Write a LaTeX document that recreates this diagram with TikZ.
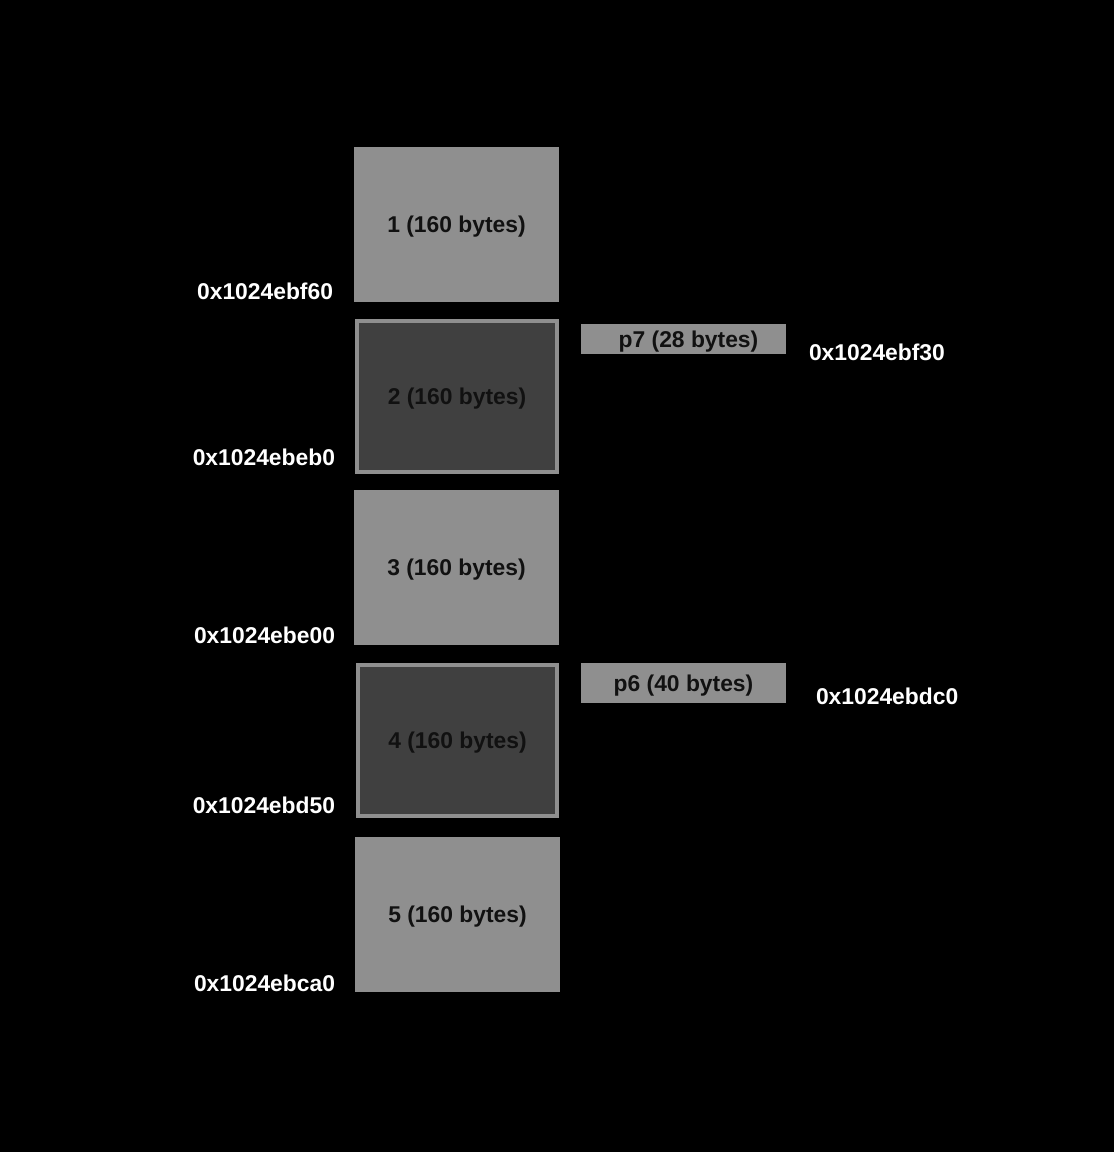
\documentclass[tikz,border=0pt]{standalone}
\usepackage{fontspec}
\setmainfont{Liberation Sans}
\usepackage{tikz}
\definecolor{chunkgray}{HTML}{8F8F8F}
\definecolor{freegray}{HTML}{404040}
\definecolor{inkdark}{HTML}{111111}

\begin{document}
\begin{tikzpicture}[x=0.02cm, y=-0.02cm,
                    every node/.style={align=center, font=\fontsize{13}{15}\selectfont\bfseries, inner sep=0pt, outer sep=0pt},
                    chunk/.style={fill=chunkgray, minimum width=4.1cm, minimum height=3.1cm, text=inkdark, text depth=0pt},
                    freechunk/.style={fill=freegray, draw=chunkgray, line width=0.08cm, minimum width=4.0cm, minimum height=3.02cm, text=inkdark, text depth=0pt},
                    small/.style={fill=chunkgray, minimum width=4.1cm, text=inkdark, text depth=0pt},
                    addr/.style={text=white}]
                        \fill[black] (0, 0) rectangle (1114, 1152);
                        \useasboundingbox (0, 0) rectangle (1114, 1152);
                        \node[chunk] (C1) at (456.5, 224.5) {1 (160 bytes)};
                        \node[freechunk] (C2) at (457, 396.5) {2 (160 bytes)};
                        \node[chunk] (C3) at (456.5, 567.5) {3 (160 bytes)};
                        \node[freechunk] (C4) at (457.5, 740.5) {4 (160 bytes)};
                        \node[chunk] (C5) at (457.5, 914.5) {5 (160 bytes)};
                        \node[small, minimum height=0.6cm] (P7) at (683.5, 339) {\hspace{0.2cm}p7 (28 bytes)};
                        \node[small, minimum height=0.8cm] (P6) at (683.5, 683) {p6 (40 bytes)};
                        \node[addr, anchor=east] (A1) at (333, 291) {0x1024ebf60};
                        \node[addr, anchor=east] (A2) at (335, 457) {0x1024ebeb0};
                        \node[addr, anchor=east] (A3) at (335, 635) {0x1024ebe00};
                        \node[addr, anchor=east] (A4) at (335, 805) {0x1024ebd50};
                        \node[addr, anchor=east] (A5) at (335, 983) {0x1024ebca0};
                        \node[addr, anchor=west] (A7) at (809, 352) {0x1024ebf30};
                        \node[addr, anchor=west] (A6) at (816, 696) {0x1024ebdc0};
                    \end{tikzpicture}
\end{document}
